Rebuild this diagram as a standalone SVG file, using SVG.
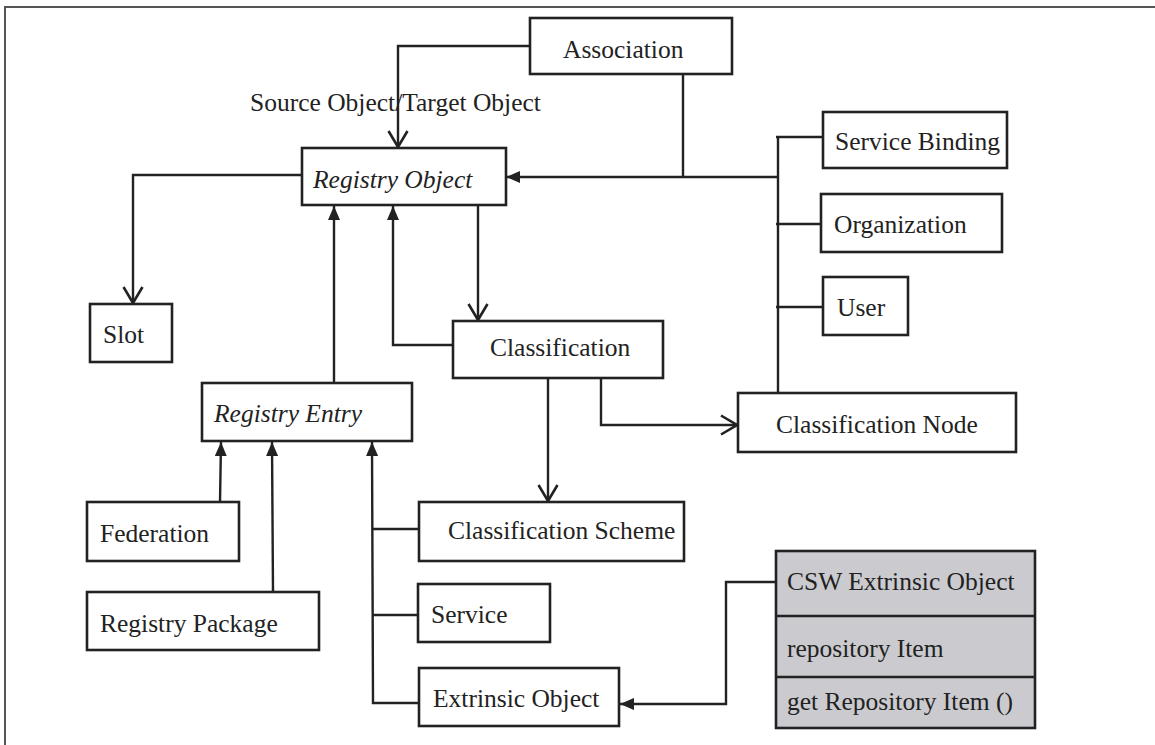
<svg xmlns="http://www.w3.org/2000/svg" width="1155" height="745" viewBox="0 0 1155 745">
  <style>
    .box { fill: #ffffff; stroke: #222222; stroke-width: 2.6; }
    .shaded { fill: #cbcbcf; stroke: #222222; stroke-width: 2.6; }
    .lbl { font-family: "Liberation Serif", "Times New Roman", serif; font-size: 25.5px; fill: #222222; }
    .it { font-style: italic; }
    .wire { fill: none; stroke: #222222; stroke-width: 2.4; }
    .frame { fill: none; stroke: #555555; stroke-width: 2; }
  </style>
  <defs>
    <marker id="solid" viewBox="0 0 14 12" refX="14" refY="6" markerWidth="14" markerHeight="12" markerUnits="userSpaceOnUse" orient="auto">
      <path d="M0,0 L14,6 L0,12 Z" fill="#222222"/>
    </marker>
    <marker id="open" viewBox="0 0 18 22" refX="17" refY="11" markerWidth="18" markerHeight="22" markerUnits="userSpaceOnUse" orient="auto">
      <path d="M1,1.5 L17,11 L1,20.5" fill="none" stroke="#222222" stroke-width="2.6"/>
    </marker>
  </defs>

  <!-- page frame -->
  <path class="frame" d="M5,745 L5,7 L1155,7"/>

  <!-- connectors -->
  <g id="connectors">
    <!-- Association to Registry Object (source/target) -->
    <path class="wire" d="M530,46 L398,46 L398,147" marker-end="url(#open)"/>
    <!-- Association down to the bus line -->
    <path class="wire" d="M683,74 L683,177"/>
    <!-- bus line into Registry Object -->
    <path class="wire" d="M778,177 L506,177" marker-end="url(#solid)"/>
    <!-- vertical bus on the right -->
    <path class="wire" d="M778,137 L778,393"/>
    <path class="wire" d="M776,137 L823,137"/>
    <path class="wire" d="M776,224 L821,224"/>
    <path class="wire" d="M776,307 L823,307"/>
    <!-- Registry Object to Slot -->
    <path class="wire" d="M302,175 L133,175 L133,303" marker-end="url(#open)"/>
    <!-- Registry Object to Classification -->
    <path class="wire" d="M478,205 L478,320" marker-end="url(#open)"/>
    <!-- Classification to Registry Object -->
    <path class="wire" d="M453,345 L393,345 L393,206" marker-end="url(#solid)"/>
    <!-- Registry Entry to Registry Object -->
    <path class="wire" d="M334,383 L334,206" marker-end="url(#solid)"/>
    <!-- Classification to Classification Node -->
    <path class="wire" d="M601,378 L601,425 L737,425" marker-end="url(#open)"/>
    <!-- Classification to Classification Scheme -->
    <path class="wire" d="M548,378 L548,501" marker-end="url(#open)"/>
    <!-- Federation to Registry Entry -->
    <path class="wire" d="M220,502 L221,442" marker-end="url(#solid)"/>
    <!-- Registry Package to Registry Entry -->
    <path class="wire" d="M273,592 L272,442" marker-end="url(#solid)"/>
    <!-- right-hand branch into Registry Entry -->
    <path class="wire" d="M419,703 L373,703 L372,442" marker-end="url(#solid)"/>
    <path class="wire" d="M373,529 L419,529"/>
    <path class="wire" d="M373,615 L418,615"/>
    <!-- CSW Extrinsic Object to Extrinsic Object -->
    <path class="wire" d="M776,582 L726,582 L726,704 L620,704" marker-end="url(#solid)"/>
  </g>

  <!-- free label -->
  <text class="lbl" x="250" y="111">Source Object/Target Object</text>

  <g id="association">
    <rect class="box" x="530" y="18" width="202" height="56"/>
    <text class="lbl" x="563" y="58">Association</text>
  </g>
  <g id="registry-object">
    <rect class="box" x="302" y="148" width="204" height="57"/>
    <text class="lbl it" x="313" y="188">Registry Object</text>
  </g>
  <g id="service-binding">
    <rect class="box" x="823" y="112" width="184" height="56"/>
    <text class="lbl" x="835" y="150">Service Binding</text>
  </g>
  <g id="organization">
    <rect class="box" x="821" y="194" width="181" height="58"/>
    <text class="lbl" x="834" y="233">Organization</text>
  </g>
  <g id="user">
    <rect class="box" x="823" y="277" width="85" height="58"/>
    <text class="lbl" x="837" y="316">User</text>
  </g>
  <g id="slot">
    <rect class="box" x="90" y="304" width="82" height="58"/>
    <text class="lbl" x="103" y="343">Slot</text>
  </g>
  <g id="classification">
    <rect class="box" x="453" y="321" width="210" height="57"/>
    <text class="lbl" x="490" y="356">Classification</text>
  </g>
  <g id="classification-node">
    <rect class="box" x="738" y="393" width="278" height="59"/>
    <text class="lbl" x="776" y="433">Classification Node</text>
  </g>
  <g id="registry-entry">
    <rect class="box" x="202" y="383" width="210" height="58"/>
    <text class="lbl it" x="214" y="422">Registry Entry</text>
  </g>
  <g id="federation">
    <rect class="box" x="87" y="502" width="152" height="59"/>
    <text class="lbl" x="100" y="542">Federation</text>
  </g>
  <g id="registry-package">
    <rect class="box" x="87" y="592" width="232" height="58"/>
    <text class="lbl" x="100" y="632">Registry Package</text>
  </g>
  <g id="classification-scheme">
    <rect class="box" x="419" y="502" width="265" height="59"/>
    <text class="lbl" x="448" y="539">Classification Scheme</text>
  </g>
  <g id="service">
    <rect class="box" x="418" y="584" width="132" height="58"/>
    <text class="lbl" x="431" y="623">Service</text>
  </g>
  <g id="extrinsic-object">
    <rect class="box" x="419" y="668" width="200" height="58"/>
    <text class="lbl" x="433" y="707">Extrinsic Object</text>
  </g>
  <g id="csw-extrinsic-object">
    <rect class="shaded" x="776" y="551" width="259" height="177"/>
    <line x1="776" y1="616" x2="1035" y2="616" stroke="#222222" stroke-width="2.6"/>
    <line x1="776" y1="677" x2="1035" y2="677" stroke="#222222" stroke-width="2.6"/>
    <text class="lbl" x="787" y="590">CSW Extrinsic Object</text>
    <text class="lbl" x="787" y="657">repository Item</text>
    <text class="lbl" x="787" y="710">get Repository Item ()</text>
  </g>
</svg>
